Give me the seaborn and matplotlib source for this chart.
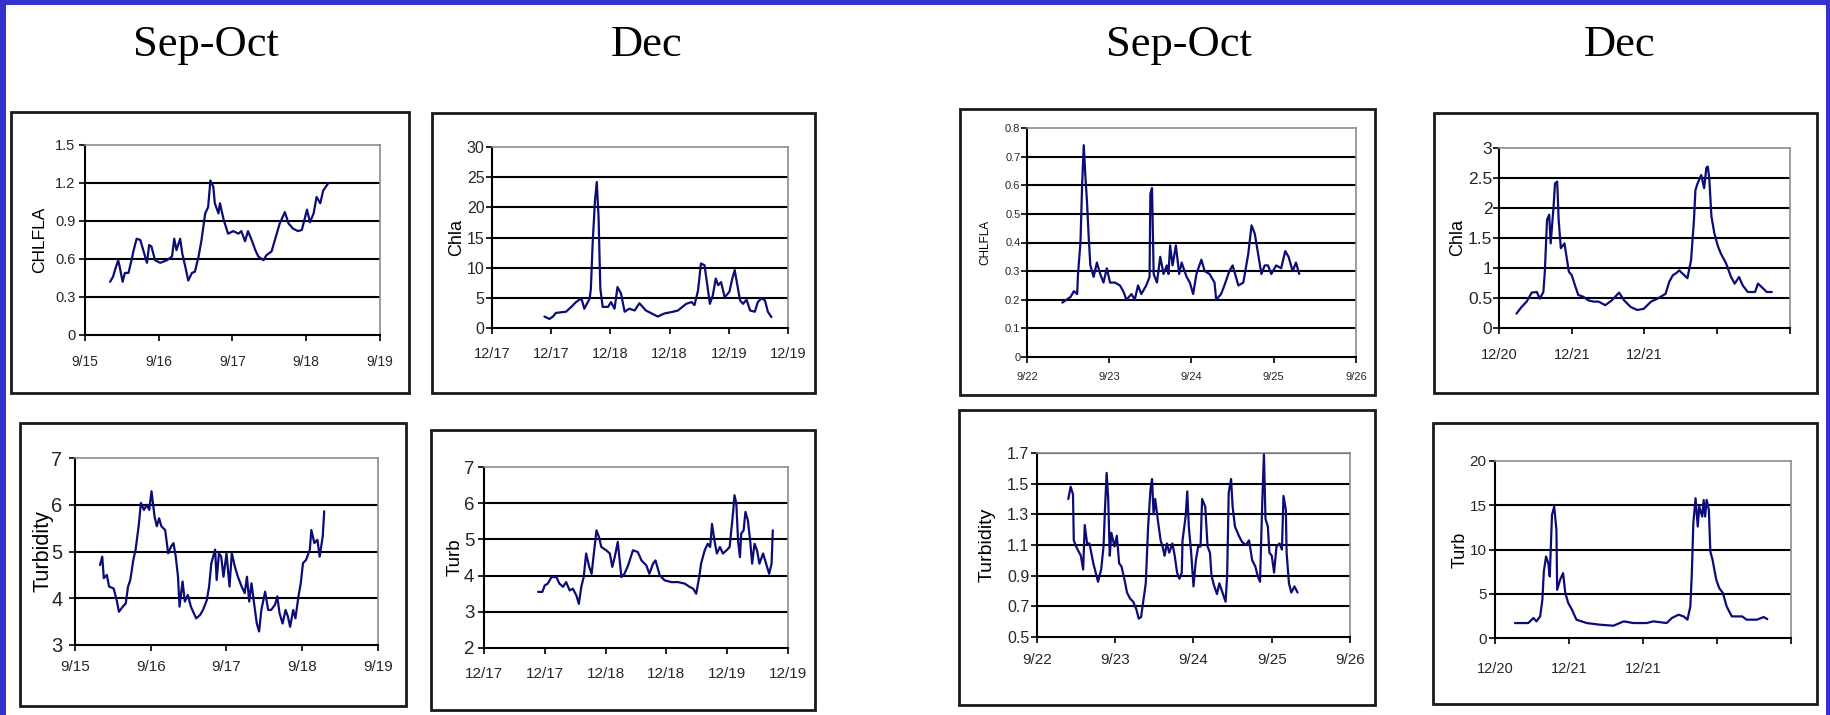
import matplotlib
matplotlib.use("Agg")
import matplotlib.pyplot as plt
from matplotlib.patches import Rectangle
import seaborn as sns

# ---------------- data ----------------
titles = ["Sep-Oct", "Dec", "Sep-Oct", "Dec"]

sep_a_labels = ["9/15", "9/16", "9/17", "9/18", "9/19"]
dec_a_labels = ["12/17", "12/17", "12/18", "12/18", "12/19", "12/19"]
sep_b_labels = ["9/22", "9/23", "9/24", "9/25", "9/26"]
dec_b_labels = ["12/20", "12/21", "12/21", "", ""]

ylabels = ["CHLFLA", "Chla", "CHLFLA", "Chla", "Turbidity", "Turb", "Turbidity", "Turb"]

p1_yticks = [0, 0.3, 0.6, 0.9, 1.2, 1.5]
p1_ytl = ["0", "0.3", "0.6", "0.9", "1.2", "1.5"]
p2_yticks = [0, 5, 10, 15, 20, 25, 30]
p2_ytl = ["0", "5", "10", "15", "20", "25", "30"]
p3_yticks = [0, 0.1, 0.2, 0.3, 0.4, 0.5, 0.6, 0.7, 0.8]
p3_ytl = ["0", "0.1", "0.2", "0.3", "0.4", "0.5", "0.6", "0.7", "0.8"]
p4_yticks = [0, 0.5, 1, 1.5, 2, 2.5, 3]
p4_ytl = ["0", "0.5", "1", "1.5", "2", "2.5", "3"]
p5_yticks = [3, 4, 5, 6, 7]
p5_ytl = ["3", "4", "5", "6", "7"]
p6_yticks = [2, 3, 4, 5, 6, 7]
p6_ytl = ["2", "3", "4", "5", "6", "7"]
p7_yticks = [0.5, 0.7, 0.9, 1.1, 1.3, 1.5, 1.7]
p7_ytl = ["0.5", "0.7", "0.9", "1.1", "1.3", "1.5", "1.7"]
p8_yticks = [0, 5, 10, 15, 20]
p8_ytl = ["0", "5", "10", "15", "20"]

# time in axis units (days / tick intervals), values
p1_t = [0.34, 0.38, 0.41, 0.45, 0.47, 0.51, 0.54, 0.59, 0.63, 0.66, 0.70, 0.75, 0.79, 0.84, 0.87,
        0.90, 0.95, 1.02, 1.11, 1.18, 1.21, 1.24, 1.29, 1.32, 1.36, 1.40, 1.45, 1.49, 1.54, 1.58,
        1.63, 1.67, 1.70, 1.74, 1.76, 1.81, 1.83, 1.88, 1.94, 2.01, 2.08, 2.12, 2.17, 2.21, 2.26,
        2.31, 2.35, 2.42, 2.46, 2.53, 2.60, 2.64, 2.71, 2.76, 2.82, 2.89, 2.94, 2.98, 3.01, 3.05,
        3.10, 3.14, 3.19, 3.23, 3.30]
p1_v = [0.42, 0.46, 0.52, 0.59, 0.54, 0.42, 0.49, 0.49, 0.59, 0.67, 0.76, 0.75, 0.67, 0.57, 0.71,
        0.70, 0.59, 0.57, 0.59, 0.62, 0.76, 0.67, 0.76, 0.64, 0.54, 0.43, 0.49, 0.50, 0.62, 0.75,
        0.96, 1.01, 1.22, 1.17, 1.04, 0.96, 1.04, 0.91, 0.80, 0.82, 0.80, 0.82, 0.74, 0.82, 0.75,
        0.67, 0.62, 0.59, 0.63, 0.66, 0.80, 0.88, 0.97, 0.88, 0.84, 0.82, 0.83, 0.92, 0.99, 0.89,
        0.96, 1.09, 1.04, 1.14, 1.20]

p2_t = [0.885, 0.97, 1.03, 1.08, 1.25, 1.34, 1.42, 1.51, 1.56, 1.65, 1.67, 1.70, 1.74, 1.77, 1.80,
        1.83, 1.87, 1.96, 2.01, 2.07, 2.12, 2.18, 2.24, 2.32, 2.41, 2.49, 2.60, 2.72, 2.80, 2.91,
        3.06, 3.14, 3.28, 3.37, 3.42, 3.48, 3.53, 3.59, 3.63, 3.68, 3.73, 3.78, 3.82, 3.87, 3.93,
        4.01, 4.06, 4.10, 4.15, 4.19, 4.24, 4.30, 4.36, 4.44, 4.49, 4.55, 4.61, 4.66, 4.72]
p2_v = [1.9, 1.5, 1.9, 2.5, 2.7, 3.5, 4.3, 4.9, 3.2, 4.9, 6.5, 14.0, 21.2, 24.2, 18.4,
        6.5, 3.5, 3.5, 4.3, 3.2, 6.8, 5.7, 2.7, 3.2, 2.9, 4.1, 2.9, 2.3, 1.9, 2.4,
        2.7, 2.9, 4.0, 4.3, 3.8, 6.2, 10.7, 10.4, 7.6, 4.0, 5.4, 8.2, 7.1, 7.6, 5.1,
        6.0, 8.2, 9.6, 6.8, 4.6, 4.0, 4.7, 2.9, 2.7, 4.3, 4.9, 4.6, 2.7, 1.8]

p3_t = [0.43, 0.48, 0.53, 0.57, 0.61, 0.62, 0.65, 0.67, 0.69, 0.71, 0.73, 0.75, 0.77, 0.81, 0.85,
        0.89, 0.93, 0.97, 1.01, 1.07, 1.13, 1.17, 1.21, 1.27, 1.31, 1.35, 1.39, 1.45, 1.49, 1.50,
        1.52, 1.54, 1.58, 1.62, 1.66, 1.70, 1.72, 1.74, 1.77, 1.81, 1.85, 1.88, 1.94, 1.98, 2.02,
        2.06, 2.12, 2.16, 2.22, 2.28, 2.30, 2.36, 2.40, 2.46, 2.50, 2.57, 2.63, 2.69, 2.73, 2.77,
        2.81, 2.85, 2.89, 2.93, 2.97, 3.03, 3.09, 3.14, 3.18, 3.23, 3.27, 3.31]
p3_v = [0.19, 0.20, 0.21, 0.23, 0.22, 0.29, 0.40, 0.60, 0.74, 0.63, 0.54, 0.42, 0.32, 0.28, 0.33,
        0.29, 0.26, 0.31, 0.26, 0.26, 0.25, 0.23, 0.20, 0.22, 0.20, 0.25, 0.22, 0.25, 0.28, 0.57,
        0.59, 0.29, 0.26, 0.35, 0.29, 0.32, 0.29, 0.39, 0.32, 0.39, 0.29, 0.33, 0.28, 0.26, 0.22,
        0.29, 0.34, 0.30, 0.29, 0.26, 0.20, 0.22, 0.25, 0.30, 0.32, 0.25, 0.26, 0.36, 0.46, 0.43,
        0.36, 0.29, 0.32, 0.32, 0.29, 0.32, 0.31, 0.37, 0.35, 0.30, 0.33, 0.29]

p4_t = [0.24, 0.31, 0.38, 0.45, 0.52, 0.56, 0.61, 0.63, 0.66, 0.69, 0.71, 0.75, 0.77, 0.80, 0.82,
        0.85, 0.90, 0.96, 1.00, 1.05, 1.09, 1.16, 1.23, 1.30, 1.37, 1.46, 1.55, 1.65, 1.72, 1.81,
        1.90, 1.99, 2.09, 2.18, 2.29, 2.34, 2.39, 2.43, 2.48, 2.52, 2.59, 2.64, 2.68, 2.70, 2.73,
        2.78, 2.82, 2.85, 2.87, 2.89, 2.92, 2.96, 3.01, 3.05, 3.12, 3.19, 3.24, 3.30, 3.35, 3.42,
        3.52, 3.56, 3.63, 3.68, 3.75]
p4_v = [0.24, 0.35, 0.44, 0.59, 0.60, 0.49, 0.60, 0.94, 1.80, 1.89, 1.41, 2.02, 2.41, 2.44, 1.80,
        1.33, 1.41, 0.94, 0.88, 0.69, 0.55, 0.52, 0.46, 0.44, 0.44, 0.38, 0.46, 0.59, 0.46, 0.35,
        0.30, 0.32, 0.44, 0.49, 0.57, 0.77, 0.88, 0.91, 0.96, 0.91, 0.83, 1.13, 1.80, 2.30, 2.41,
        2.55, 2.33, 2.67, 2.69, 2.50, 1.86, 1.58, 1.36, 1.24, 1.08, 0.85, 0.74, 0.85, 0.71, 0.60,
        0.60, 0.74, 0.66, 0.60, 0.60]

p5_t = [0.33, 0.36, 0.38, 0.42, 0.45, 0.51, 0.55, 0.58, 0.63, 0.67, 0.70, 0.73, 0.77, 0.80, 0.84,
        0.87, 0.91, 0.95, 0.98, 1.01, 1.05, 1.08, 1.11, 1.14, 1.19, 1.23, 1.27, 1.30, 1.33, 1.36,
        1.38, 1.42, 1.45, 1.49, 1.53, 1.56, 1.60, 1.65, 1.69, 1.74, 1.77, 1.80, 1.85, 1.87, 1.90,
        1.93, 1.96, 2.00, 2.04, 2.07, 2.11, 2.15, 2.20, 2.24, 2.27, 2.30, 2.33, 2.37, 2.40, 2.43,
        2.46, 2.51, 2.55, 2.59, 2.64, 2.67, 2.70, 2.74, 2.78, 2.81, 2.84, 2.88, 2.91, 2.95, 2.98,
        3.01, 3.05, 3.10, 3.12, 3.16, 3.20, 3.23, 3.27, 3.29]
p5_v = [4.71, 4.89, 4.43, 4.50, 4.25, 4.21, 3.96, 3.71, 3.82, 3.89, 4.25, 4.39, 4.82, 5.04, 5.54,
        6.04, 5.89, 6.00, 5.89, 6.29, 5.75, 5.54, 5.71, 5.54, 5.46, 4.96, 5.11, 5.18, 4.89, 4.46,
        3.82, 4.36, 3.93, 4.07, 3.82, 3.71, 3.57, 3.64, 3.75, 3.96, 4.25, 4.75, 5.04, 4.39, 4.96,
        4.89, 4.46, 4.96, 4.25, 4.96, 4.68, 4.46, 4.25, 4.11, 4.46, 3.93, 4.32, 3.82, 3.46, 3.29,
        3.75, 4.14, 3.75, 3.75, 3.86, 4.04, 3.68, 3.46, 3.75, 3.61, 3.39, 3.75, 3.57, 4.04, 4.32,
        4.75, 4.82, 5.04, 5.46, 5.18, 5.25, 4.89, 5.32, 5.86]

p6_t = [0.89, 0.96, 1.00, 1.05, 1.11, 1.19, 1.24, 1.30, 1.35, 1.41, 1.46, 1.52, 1.56, 1.60, 1.64,
        1.68, 1.73, 1.77, 1.80, 1.85, 1.89, 1.93, 2.01, 2.07, 2.11, 2.15, 2.20, 2.26, 2.31, 2.37,
        2.45, 2.53, 2.59, 2.67, 2.72, 2.78, 2.82, 2.89, 2.97, 3.08, 3.19, 3.30, 3.38, 3.44, 3.49,
        3.54, 3.57, 3.63, 3.68, 3.72, 3.75, 3.79, 3.83, 3.88, 3.93, 3.99, 4.04, 4.10, 4.12, 4.15,
        4.18, 4.21, 4.23, 4.27, 4.30, 4.34, 4.38, 4.41, 4.45, 4.49, 4.53, 4.59, 4.64, 4.69, 4.73,
        4.75]
p6_v = [3.55, 3.55, 3.73, 3.78, 3.96, 3.96, 3.78, 3.69, 3.82, 3.59, 3.64, 3.45, 3.22, 3.69, 3.96,
        4.61, 4.24, 4.05, 4.51, 5.25, 5.07, 4.79, 4.70, 4.61, 4.24, 4.51, 4.93, 3.96, 4.05, 4.28,
        4.70, 4.65, 4.42, 4.28, 4.05, 4.33, 4.42, 4.01, 3.87, 3.82, 3.82, 3.78, 3.69, 3.64, 3.50,
        3.96, 4.33, 4.70, 4.88, 4.79, 5.43, 4.97, 4.61, 4.79, 4.61, 4.70, 4.79, 5.80, 6.22, 5.99,
        4.93, 4.51, 5.16, 5.25, 5.76, 5.53, 4.93, 4.33, 4.88, 4.70, 4.33, 4.61, 4.33, 4.05, 4.33,
        5.25]

p7_t = [0.40, 0.43, 0.46, 0.47, 0.50, 0.53, 0.56, 0.59, 0.61, 0.64, 0.67, 0.72, 0.75, 0.78, 0.82,
        0.85, 0.87, 0.89, 0.91, 0.93, 0.95, 0.99, 1.02, 1.05, 1.08, 1.12, 1.15, 1.19, 1.23, 1.27,
        1.30, 1.33, 1.36, 1.39, 1.42, 1.45, 1.47, 1.49, 1.51, 1.55, 1.58, 1.61, 1.63, 1.66, 1.69,
        1.73, 1.76, 1.79, 1.82, 1.85, 1.86, 1.90, 1.92, 1.94, 1.97, 2.00, 2.03, 2.06, 2.09, 2.11,
        2.15, 2.18, 2.21, 2.23, 2.26, 2.30, 2.33, 2.37, 2.41, 2.43, 2.45, 2.48, 2.50, 2.53, 2.58,
        2.62, 2.67, 2.71, 2.75, 2.79, 2.82, 2.85, 2.88, 2.90, 2.92, 2.95, 2.97, 3.00, 3.03, 3.06,
        3.10, 3.13, 3.15, 3.18, 3.19, 3.22, 3.25, 3.29, 3.33]
p7_v = [1.40, 1.48, 1.43, 1.13, 1.09, 1.06, 1.03, 0.94, 1.23, 1.11, 1.11, 0.98, 0.92, 0.86, 0.94,
        1.09, 1.35, 1.57, 1.40, 1.03, 1.18, 1.09, 1.16, 0.98, 0.96, 0.87, 0.79, 0.75, 0.73, 0.68,
        0.62, 0.63, 0.74, 0.85, 1.22, 1.46, 1.53, 1.30, 1.40, 1.24, 1.13, 1.08, 1.03, 1.11, 1.05,
        1.11, 1.03, 0.92, 0.88, 0.92, 1.13, 1.29, 1.45, 1.22, 1.05, 0.83, 1.00, 1.09, 1.09, 1.40,
        1.35, 1.09, 1.05, 0.90, 0.84, 0.78, 0.85, 0.79, 0.73, 0.90, 1.44, 1.53, 1.35, 1.22, 1.16,
        1.12, 1.10, 1.13, 1.00, 0.96, 0.90, 0.86, 1.40, 1.69, 1.27, 1.22, 1.05, 1.03, 0.92, 1.09,
        1.11, 1.07, 1.42, 1.33, 1.05, 0.85, 0.79, 0.83, 0.79]

p8_t = [0.27, 0.45, 0.52, 0.56, 0.61, 0.64, 0.66, 0.69, 0.72, 0.74, 0.77, 0.80, 0.83, 0.84, 0.88,
        0.92, 0.95, 0.99, 1.04, 1.10, 1.24, 1.42, 1.60, 1.74, 1.87, 2.05, 2.14, 2.32, 2.39, 2.48,
        2.55, 2.60, 2.64, 2.66, 2.68, 2.71, 2.74, 2.76, 2.80, 2.82, 2.84, 2.86, 2.89, 2.91, 2.94,
        2.99, 3.03, 3.08, 3.13, 3.20, 3.34, 3.40, 3.54, 3.63, 3.68]
p8_v = [1.69, 1.69, 2.26, 1.88, 2.44, 4.32, 7.52, 9.21, 8.46, 6.95, 13.91, 14.85, 12.22, 5.45, 6.58,
        7.33, 5.08, 3.95, 3.20, 2.07, 1.69, 1.50, 1.39, 1.88, 1.69, 1.69, 1.88, 1.69, 2.26, 2.63,
        2.44, 2.07, 3.57, 7.33, 12.97, 15.79, 12.59, 14.85, 13.72, 15.60, 13.72, 15.60, 14.47, 9.77, 8.83,
        6.58, 5.64, 5.08, 3.57, 2.44, 2.44, 2.07, 2.07, 2.37, 2.14]

# ---------------- layout / style (pixels) ----------------
W, H = 1831, 715
sns.set_theme(style="white")
plt.rcParams["font.family"] = ["Liberation Sans", "DejaVu Sans"]

fig = plt.figure(figsize=(W / 100, H / 100), dpi=100)
fig.patch.set_facecolor("#3333CC")
fig.add_artist(Rectangle((6 / W, 0), (1826 - 6) / W, (H - 5) / H, transform=fig.transFigure,
                         facecolor="white", edgecolor="none", zorder=-10))

def fx(px):
    return px / W

def fy(py):
    return 1 - py / H

# frame boxes: l, t, r, b
frames = [(11, 112, 409, 393), (432, 113, 815, 393), (960, 109, 1375, 395), (1434, 113, 1817, 393),
          (20, 423, 406, 706), (431, 430, 815, 710), (959, 410, 1375, 705), (1433, 423, 1817, 704)]
# plot areas: l, t, r, b
areas = [(85, 145, 380, 335), (492, 147, 788, 328), (1027, 128, 1356, 357), (1499, 148, 1790, 328),
         (75, 458, 378, 645), (484, 467, 788, 648), (1037, 453, 1350, 637), (1495, 461, 1791, 638)]
ylab_x = [40, 457, 985, 1458, 43, 455, 987, 1460]
ytick_fs = [10.5, 11.5, 8, 12.5, 14.5, 13.5, 11.5, 11]
xtick_fs = [10, 10.5, 8, 10.5, 11, 11, 11, 10.5]
ylab_fs = [12.5, 13, 8.5, 13, 15.5, 13.5, 14, 13]
xgap = [20, 19, 15, 20, 15, 19, 16, 24]
ygap = [9, 7, 5, 4, 12, 9, 7, 8]
top_grid = [False, False, False, False, False, False, True, False]

series_t = [p1_t, p2_t, p3_t, p4_t, p5_t, p6_t, p7_t, p8_t]
series_v = [p1_v, p2_v, p3_v, p4_v, p5_v, p6_v, p7_v, p8_v]
yticks = [p1_yticks, p2_yticks, p3_yticks, p4_yticks, p5_yticks, p6_yticks, p7_yticks, p8_yticks]
ytls = [p1_ytl, p2_ytl, p3_ytl, p4_ytl, p5_ytl, p6_ytl, p7_ytl, p8_ytl]
xlabs = [sep_a_labels, dec_a_labels, sep_b_labels, dec_b_labels,
         sep_a_labels, dec_a_labels, sep_b_labels, dec_b_labels]

line_color = "#0c0c78"
px2pt = 0.72

for i in range(8):
    l, t, r, b = frames[i]
    fig.add_artist(Rectangle((fx(l), fy(b)), (r - l) / W, (b - t) / H, transform=fig.transFigure,
                             fill=False, edgecolor="#1a1a1a", linewidth=2.0, zorder=-5))
    al, at, ar, ab = areas[i]
    ax = fig.add_axes([fx(al), fy(ab), (ar - al) / W, (ab - at) / H])
    ax.set_facecolor("white")
    xl = xlabs[i]
    ax.set_xlim(0, len(xl) - 1)
    ax.set_ylim(yticks[i][0], yticks[i][-1])
    grid_vals = yticks[i][1:] if top_grid[i] else yticks[i][1:-1]
    for g in grid_vals:
        ax.axhline(g, color="black", linewidth=1.5, zorder=1)
    sns.lineplot(x=series_t[i], y=series_v[i], ax=ax, color=line_color, linewidth=1.6,
                 estimator=None, sort=False, zorder=3)
    ax.set_xticks(range(len(xl)))
    ax.set_xticklabels(xl, fontsize=xtick_fs[i])
    ax.set_yticks(yticks[i])
    ax.set_yticklabels(ytls[i], fontsize=ytick_fs[i])
    ax.tick_params(axis="y", direction="out", length=4, width=1.2, color="black",
                   pad=max(ygap[i] - 5, 1) * px2pt, left=True)
    ax.tick_params(axis="x", direction="out", length=4, width=1.2, color="black",
                   pad=(xgap[i] - 6) * px2pt, bottom=True)
    for s in ["top", "right"]:
        ax.spines[s].set_color("#8c8c8c")
        ax.spines[s].set_linewidth(1.2)
    for s in ["left", "bottom"]:
        ax.spines[s].set_color("black")
        ax.spines[s].set_linewidth(1.5)
    ax.set_xlabel("")
    ax.set_ylabel("")
    fig.text(fx(ylab_x[i]), fy((at + ab) / 2), ylabels[i], rotation=90, ha="center", va="center",
             fontsize=ylab_fs[i], color="black")

title_x = [206, 647, 1179, 1620]
for tx, tt in zip(title_x, titles):
    fig.text(fx(tx), fy(56), tt, ha="center", va="baseline", fontsize=32,
             family=["Liberation Serif", "DejaVu Serif"], color="black")

fig.savefig("out.png", dpi=100, facecolor=fig.get_facecolor())
